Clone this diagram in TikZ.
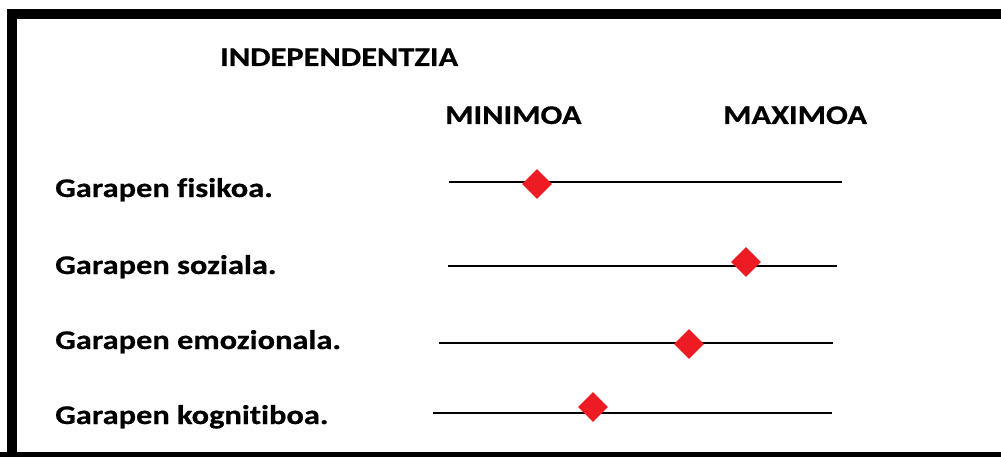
\documentclass[tikz,border=0pt]{standalone}
\usepackage{fontspec}
\setmainfont{Carlito}[Ligatures=NoCommon]
\newfontfamily\lblfont{Carlito}[Ligatures=NoCommon,FakeStretch=1.2,BoldFeatures={FakeBold=0.6}]
\usetikzlibrary{shapes.geometric}
\definecolor{mkred}{RGB}{237,28,36}
\begin{document}
\begin{tikzpicture}[x=1pt,y=-1pt,
  lbl/.style={anchor=base west,inner sep=0pt,font=\lblfont\fontsize{27}{32}\selectfont\bfseries},
  scaleline/.style={line width=2pt,black},
  marker/.style={diamond,fill=mkred,draw=none,inner sep=0pt,minimum width=30pt,minimum height=30pt}]
\useasboundingbox (0,0) rectangle (1001,457);
\fill[white] (0,0) rectangle (1001,457);
\draw[line width=10pt] (12,470) -- (12,14) -- (1020,14);
\draw[line width=10pt] (0,457) -- (1020,457);
\node[lbl] (title) at (220,66) {INDEPENDENTZIA};
\node[lbl] (min) at (445,124) {MINIMOA};
\node[lbl] (max) at (723,124) {MAXIMOA};
\node[lbl] (l1) at (55,197) {Garapen fisikoa.};
\node[lbl] (l2) at (55,274) {Garapen soziala.};
\node[lbl] (l3) at (55,349) {Garapen emozionala.};
\node[lbl] (l4) at (55,424) {Garapen kognitiboa.};
\coordinate (a1) at (449,182); \coordinate (b1) at (842,182);
\coordinate (a2) at (448,266); \coordinate (b2) at (837,266);
\coordinate (a3) at (439,343); \coordinate (b3) at (833,343);
\coordinate (a4) at (433,413); \coordinate (b4) at (832,413);
\draw[scaleline] (a1) -- (b1);
\draw[scaleline] (a2) -- (b2);
\draw[scaleline] (a3) -- (b3);
\draw[scaleline] (a4) -- (b4);
\node[marker] (m1) at (537,184) {};
\node[marker] (m2) at (746,262) {};
\node[marker] (m3) at (689,344) {};
\node[marker] (m4) at (593,407) {};
\end{tikzpicture}
\end{document}
